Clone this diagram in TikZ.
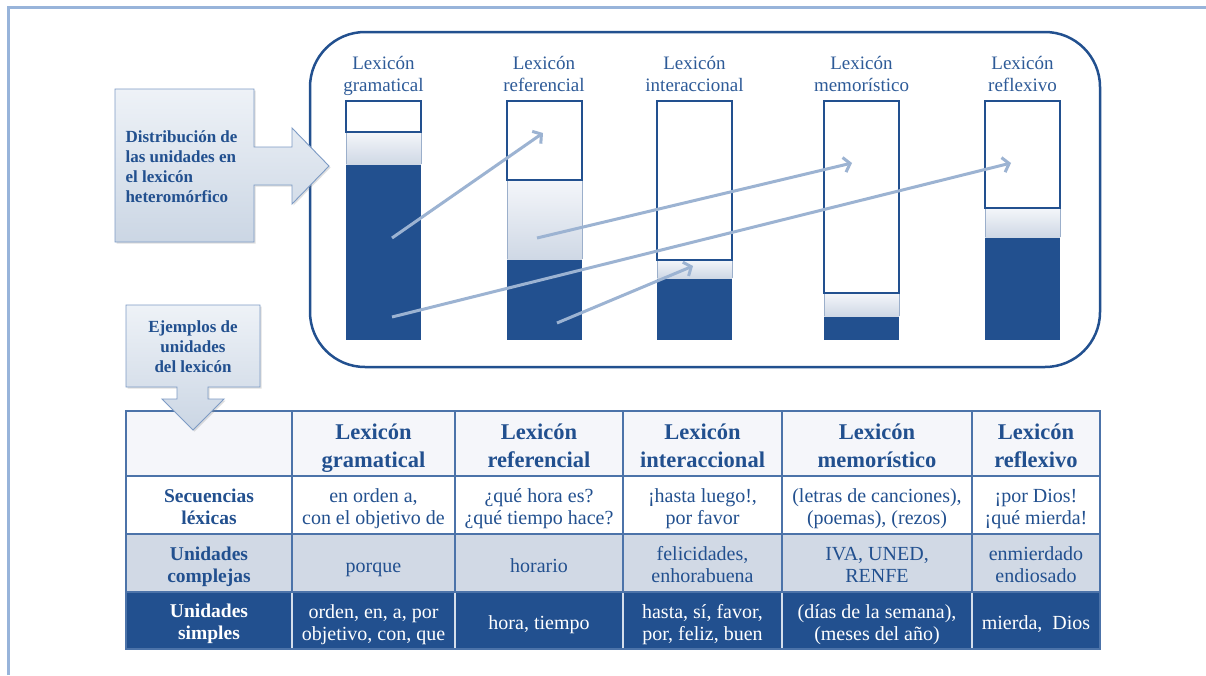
\documentclass[tikz,border=0pt]{standalone}
\usepackage{fontspec}
\setmainfont{Liberation Serif}
\usetikzlibrary{arrows.meta,shadows}
\definecolor{navy}{HTML}{22508F}
\definecolor{titleblue}{HTML}{2E5B98}
\definecolor{gridblue}{HTML}{4C73A9}
\definecolor{framelight}{HTML}{98B4DA}
\definecolor{paleA}{HTML}{F4F6FA}
\definecolor{paleB}{HTML}{CFD8E5}
\definecolor{headfill}{HTML}{F5F6FA}
\definecolor{midfill}{HTML}{D1D9E5}
\definecolor{flow}{HTML}{9CB3D2}
\definecolor{calloutedge}{HTML}{7D9BC5}
\definecolor{calloutA}{HTML}{EEF2F7}
\definecolor{calloutB}{HTML}{CBD6E4}
\definecolor{darksep}{HTML}{D5DEEB}

\begin{document}
\begin{tikzpicture}[x=1pt,y=-1pt,
  evened/.style={execute at begin node=\strut, execute at end node=\strut},
  title/.style={evened, align=center, inner sep=0pt, yshift=-3pt, text=titleblue, font=\fontsize{19}{22}\selectfont},
  callouttext/.style={inner sep=0pt, text=navy, font=\bfseries\fontsize{17}{20}\selectfont},
  calloutshape/.style={draw=calloutedge, line width=0.9pt, top color=calloutA, bottom color=calloutB,
    drop shadow={opacity=0.25, shadow xshift=1.5pt, shadow yshift=-1.5pt}},
  flowarrow/.style={flow, line width=3pt, -{Straight Barb[length=6pt,width=15pt]}},
  cell/.style={evened, inner sep=0pt, align=center, anchor=center},
  headcell/.style={cell, fill=headfill, text=navy, font=\bfseries\fontsize{22.5}{28}\selectfont},
  headtext/.style={cell, yshift=-6pt, text=navy, font=\bfseries\fontsize{22.5}{28}\selectfont},
  labcell/.style={cell, yshift=-4pt, text=navy, font=\bfseries\fontsize{19.5}{22}\selectfont},
  bodycell/.style={cell, yshift=-4pt, text=navy, font=\fontsize{20}{22}\selectfont},
]
\useasboundingbox (0,0) rectangle (1206,675);
\fill[white] (0,0) rectangle (1206,675);

% light page frame (top and left edges)
\draw[framelight, line width=3pt] (8.5,675) -- (8.5,7.5) -- (1206,7.5);

% rounded panel holding the five bars
\node[draw=navy, line width=2.5pt, rounded corners=55pt, minimum width=790pt, minimum height=335pt,
      inner sep=0pt] (panel) at (705,199.5) {};

% stacked bars: x-left / white->light boundary / light->dark boundary
\foreach \n/\xa/\da/\db in {1/346/132/164, 2/507/180/259, 3/657/260/278, 4/824/293/316, 5/985/208/237}{
  \fill[navy] (\xa,\db) rectangle (\xa+75,340);
  \shade[top color=paleA, bottom color=paleB] (\xa,\da) rectangle (\xa+75,\db);
  \draw[paleB!70!navy, line width=0.6pt] (\xa,\da) -- (\xa,\db) (\xa+75,\da) -- (\xa+75,\db);
  \draw[navy, line width=2.2pt] (\xa,101) rectangle (\xa+75,\da);
}

% bar titles
\node[title] (t1) at (383.5,74) {Lexicón\\gramatical};
\node[title] (t2) at (544,74) {Lexicón\\referencial};
\node[title] (t3) at (694.5,74) {Lexicón\\interaccional};
\node[title] (t4) at (861.5,74) {Lexicón\\memorístico};
\node[title] (t5) at (1022.5,74) {Lexicón\\reflexivo};

% flow arrows between the bars
\coordinate (a1s) at (392,238);  \coordinate (a1e) at (543,133);
\coordinate (a2s) at (537,238);  \coordinate (a2e) at (852,163);
\coordinate (a3s) at (392,317);  \coordinate (a3e) at (1011,163);
\coordinate (a4s) at (557,323);  \coordinate (a4e) at (693,266);
\draw[flowarrow] (a1s) -- (a1e);
\draw[flowarrow] (a2s) -- (a2e);
\draw[flowarrow] (a3s) -- (a3e);
\draw[flowarrow] (a4s) -- (a4e);

% right-pointing callout
\path[calloutshape] (115,89) -- (254,89) -- (254,147) -- (292,147) -- (292,128) -- (329,166)
  -- (292,204) -- (292,185) -- (254,185) -- (254,242) -- (115,242) -- cycle;
\node[callouttext, align=left] (dist) at (181.5,167)
  {Distribución de\\las unidades en\\el lexicón\\heteromórfico};

% table: header row
\fill[headfill] (126,411) rectangle (1100,476);
\node[headtext] (h1) at (373.5,443.5) {Lexicón\\gramatical};
\node[headtext] (h2) at (539,443.5) {Lexicón\\referencial};
\node[headtext] (h3) at (702.5,443.5) {Lexicón\\interaccional};
\node[headtext] (h4) at (877,443.5) {Lexicón\\memorístico};
\node[headtext] (h5) at (1036,443.5) {Lexicón\\reflexivo};

% lexical sequences
\node[labcell] (s0) at (209,506) {Secuencias\\léxicas};
\node[bodycell] (s1) at (373.5,506) {en orden a,\\con el objetivo de};
\node[bodycell] (s2) at (539,506) {¿qué hora es?\\¿qué tiempo hace?};
\node[bodycell] (s3) at (702.5,506) {¡hasta luego!,\\por favor};
\node[bodycell] (s4) at (877,506) {(letras de canciones),\\(poemas), (rezos)};
\node[bodycell] (s5) at (1036,506) {¡por Dios!\\¡qué mierda!};

% complex units
\fill[midfill] (126,534) rectangle (1100,592);
\node[labcell] (c0) at (209,564) {Unidades\\complejas};
\node[bodycell] (c1) at (373.5,564) {porque};
\node[bodycell] (c2) at (539,564) {horario};
\node[bodycell] (c3) at (702.5,564) {felicidades,\\enhorabuena};
\node[bodycell] (c4) at (877,564) {IVA, UNED,\\RENFE};
\node[bodycell] (c5) at (1036,564) {enmierdado\\endiosado};

% simple units
\fill[navy] (126,592) rectangle (1100,649);
\node[labcell, text=white] (u0) at (209,621.5) {Unidades\\simples};
\node[bodycell, text=white] (u1) at (373.5,621.5) {orden, en, a, por\\objetivo, con, que};
\node[bodycell, text=white] (u2) at (539,621.5) {hora, tiempo};
\node[bodycell, text=white] (u3) at (702.5,621.5) {hasta, sí, favor,\\por, feliz, buen};
\node[bodycell, text=white] (u4) at (877,621.5) {(días de la semana),\\(meses del año)};
\node[bodycell, text=white] (u5) at (1036,621.5) {mierda,\ \ Dios};

% table rules
\foreach \x in {292,455,623,782,972}{
  \draw[gridblue, line width=1.3pt] (\x,411) -- (\x,592);
  \draw[darksep, line width=1.3pt] (\x,592) -- (\x,649);
}
\foreach \y in {476,534,592}{
  \draw[gridblue, line width=1.3pt] (126,\y) -- (1100,\y);
}
\draw[gridblue, line width=1.3pt] (126,411) rectangle (1100,649);

% downward callout over the table
\path[calloutshape] (126,305) -- (260,305) -- (260,387) -- (208,387) -- (208,399) -- (224,399)
  -- (193,430) -- (162,399) -- (177,399) -- (177,387) -- (126,387) -- cycle;
\node[callouttext, align=center] (ejem) at (193,347) {Ejemplos de\\unidades\\del lexicón};
\end{tikzpicture}
\end{document}
